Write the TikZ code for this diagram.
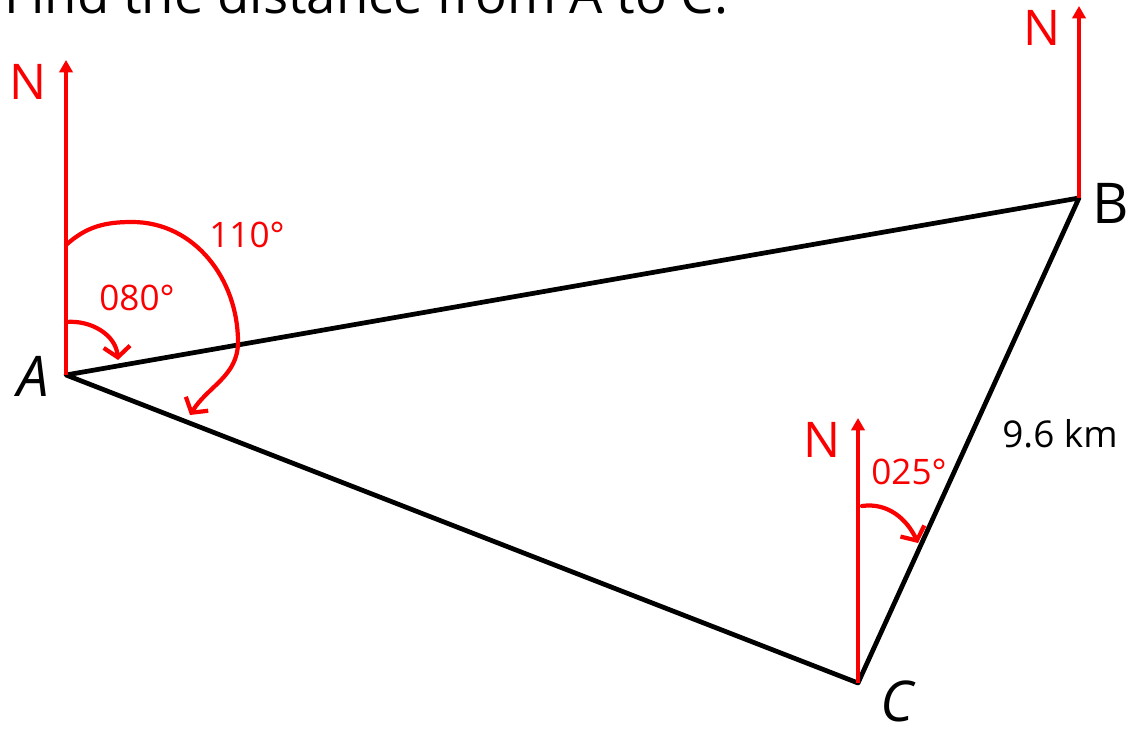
\documentclass[tikz,border=0pt]{standalone}
\usepackage{fontspec}
\setmainfont{Open Sans}
\usetikzlibrary{arrows.meta,positioning}
\definecolor{bearred}{RGB}{250,0,0}

\begin{document}
\begin{tikzpicture}[
  x=0.02cm, y=0.02cm,
  side/.style={line width=2.7pt, line cap=round, line join=round},
  northline/.style={draw=bearred, line width=2.5pt, -{Triangle[length=7pt,width=7.5pt]}},
  bearing/.style={draw=bearred, line width=2.4pt, line cap=round, -{Straight Barb[length=6pt,width=15pt]}},
  ptlabel/.style={font=\fontsize{32}{36}\selectfont},
  nlabel/.style={text=bearred, font=\fontsize{28}{32}\selectfont},
  anglabel/.style={text=bearred, font=\fontsize{20}{24}\selectfont}
]
\useasboundingbox (0,0) rectangle (1133,734);
% title, cut off by the page edge
\node[anchor=base west, inner sep=0pt, font=\fontsize{30}{34}\selectfont] (title) at (4,720) {Find the distance from A to C.};
% points and north tips
\coordinate (A) at (66,359);
\coordinate (B) at (1079,536);
\coordinate (C) at (858,51);
\coordinate (nA) at (66,674);
\coordinate (nB) at (1079,728);
\coordinate (nC) at (858,316);
% triangle
\draw[side] (A) -- (B) -- (C) -- cycle;
% north lines
\draw[northline] (A) -- (nA);
\draw[northline] (B) -- (nB);
\draw[northline] (C) -- (nC);
\node[nlabel] (NA) at (28,652) {N};
\node[nlabel] (NB) at (1042,706) {N};
\node[nlabel] (NC) at (822,294) {N};
% bearings
\coordinate (s110) at (66,489);
\coordinate (e110) at (190,319);
\draw[bearing] (s110) to[out=42,in=180] (132,512) to[out=0,in=90] (238,392) to[out=-90,in=58] (e110);
\coordinate (s080) at (66,412);
\coordinate (e080) at (118,374);
\draw[bearing] (s080) to[out=5,in=95] (e080);
\coordinate (s025) at (862,228);
\coordinate (e025) at (918,191);
\draw[bearing] (s025) to[out=8,in=115] (e025);
\node[anglabel] (l110) at (247,499) {110°};
\node[anglabel] (l080) at (137,436) {080°};
\node[anglabel] (l025) at (909,262) {025°};
% labels
\node[font=\fontsize{21}{25}\selectfont] (dist) at (1060,300) {9.6 km};
\node[ptlabel, font=\fontsize{32}{36}\selectfont\itshape] (lA) at (33,358) {A};
\node[ptlabel] (lB) at (1111,531) {B};
\node[ptlabel, font=\fontsize{32}{36}\selectfont\itshape] (lC) at (897,33) {C};
\end{tikzpicture}
\end{document}
